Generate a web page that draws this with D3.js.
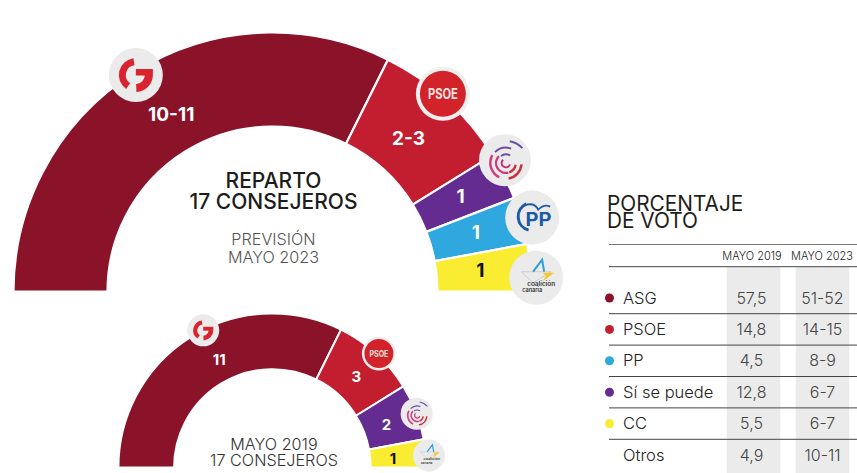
<!DOCTYPE html>
<html>
<head>
<meta charset="utf-8">
<script src="https://cdn.jsdelivr.net/npm/d3@7"></script>
<style>
html, body { margin: 0; padding: 0; background: #fff; overflow: hidden; }
text { font-family: Inter, "Noto Sans", sans-serif; }
</style>
</head>
<body>
<svg id="chart" width="857" height="473"></svg>
<script>
// seats
var parties2023 = ['ASG', 'PSOE', 'SSP', 'PP', 'CC'];
var seats2023 = [11, 3, 1, 1, 1];
var labels2023 = ['10-11', '2-3', '1', '1', '1'];

var parties2019 = ['ASG', 'PSOE', 'SSP', 'CC'];
var seats2019 = [11, 3, 2, 1];
var labels2019 = ['11', '3', '2', '1'];

// vote table
var tableParties = ['ASG', 'PSOE', 'PP', 'Sí se puede', 'CC', 'Otros'];
var tableKeys = ['ASG', 'PSOE', 'PP', 'SSP', 'CC', null];
var votes2019 = ['57,5', '14,8', '4,5', '12,8', '5,5', '4,9'];
var votes2023 = ['51-52', '14-15', '8-9', '6-7', '6-7', '10-11'];
var tableHeaders = ['MAYO 2019', 'MAYO 2023'];

var colors = { ASG: '#8a1229', PSOE: '#c31e30', SSP: '#642b90', PP: '#2fa8e0', CC: '#f9ec31' };

var svg = d3.select('#chart');
var deg = Math.PI / 180;

function polar(r, a) {
    return [r * Math.sin(a), -r * Math.cos(a)];
}

function drawLogoG(g) {
    var arc = d3.arc();
    var red = '#d9232e';
    g.append('path').attr('fill', red)
        .attr('d', arc({ innerRadius: 10, outerRadius: 17, startAngle: 215 * deg, endAngle: 352 * deg }));
    g.append('path').attr('fill', red)
        .attr('d', arc({ innerRadius: 9, outerRadius: 17, startAngle: 90 * deg, endAngle: 178 * deg }));
    g.append('rect').attr('fill', red).attr('x', 0).attr('y', -6).attr('width', 17).attr('height', 6.5);
}

function drawLogoPsoe(g) {
    g.append('circle').attr('r', 23).attr('fill', '#d2232a');
    g.append('text').attr('text-anchor', 'middle').attr('y', 5.5).attr('fill', '#f4e3df')
        .attr('font-size', 14).attr('font-weight', 700)
        .attr('textLength', 30).attr('lengthAdjust', 'spacingAndGlyphs')
        .text('PSOE');
}

function drawLogoSsp(g) {
    var arc = d3.arc();
    var rings = [
        { r0: 3.5, r1: 5.5, a0: 110, a1: 320, c: '#c4306e' },
        { r0: 9, r1: 11.5, a0: 165, a1: 315, c: '#cf3d7e' },
        { r0: 9, r1: 11.5, a0: 100, a1: 160, c: '#d2343f' },
        { r0: 15, r1: 17.5, a0: 95, a1: 170, c: '#c9303f' },
        { r0: 15, r1: 17.5, a0: 205, a1: 300, c: '#cf3d7e' },
        { r0: 8, r1: 10, a0: 325, a1: 30, c: '#6a4ea8' },
        { r0: 15, r1: 17, a0: 315, a1: 20, c: '#6a4ea8' },
        { r0: 22, r1: 24, a0: 10, a1: 48, c: '#6a4ea8' }
    ];
    rings.forEach(function (d) {
        g.append('path').attr('fill', d.c).attr('transform', 'translate(1,3)')
            .attr('d', arc({ innerRadius: d.r0, outerRadius: d.r1, startAngle: d.a0 * deg, endAngle: (d.a1 < d.a0 ? d.a1 + 360 : d.a1) * deg }));
    });
}

function drawLogoPp(g) {
    var arc = d3.arc();
    g.append('path').attr('fill', '#1f5aa6').attr('transform', 'translate(0,-1)')
        .attr('d', arc({ innerRadius: 12.5, outerRadius: 15.5, startAngle: 195 * deg, endAngle: 335 * deg }));
    g.append('path').attr('fill', 'none').attr('stroke', '#1f5aa6').attr('stroke-width', 1.8)
        .attr('d', 'M-8,-12 Q2,-16 6,-8 Q12,-14 18,-11');
    g.append('text').attr('text-anchor', 'middle').attr('x', 6.3).attr('y', 8.5).attr('fill', '#1f5aa6')
        .attr('font-size', 19).attr('font-weight', 700)
        .attr('textLength', 26).attr('lengthAdjust', 'spacingAndGlyphs').text('PP');
}

function drawLogoCc(g) {
    g.append('path').attr('fill', 'none').attr('stroke', '#c8c8c8').attr('stroke-width', 0.8)
        .attr('d', 'M-15,-6 L15,-6 L-3,5 Z');
    g.append('path').attr('fill', 'none').attr('stroke', '#2b9fd6').attr('stroke-width', 2)
        .attr('d', 'M-3,-6 L6,-18 L8,-6');
    g.append('path').attr('fill', '#f4c92c').attr('d', 'M6,-5 L18,-5 L6,4 L10,-2 Z');
    g.append('text').attr('text-anchor', 'middle').attr('x', 5).attr('y', 8).attr('fill', '#333')
        .attr('font-size', 5.5).attr('font-weight', 600)
        .attr('textLength', 28).attr('lengthAdjust', 'spacingAndGlyphs').text('coalición');
    g.append('text').attr('text-anchor', 'middle').attr('x', -4).attr('y', 14.5).attr('fill', '#333')
        .attr('font-size', 5.5).attr('font-weight', 600)
        .attr('textLength', 20).attr('lengthAdjust', 'spacingAndGlyphs').text('canaria');
}

var logoDraw = { ASG: drawLogoG, PSOE: drawLogoPsoe, SSP: drawLogoSsp, PP: drawLogoPp, CC: drawLogoCc };

// one hemicycle with its party logos on top
function drawHemicycle(opts) {
    var g = svg.append('g').attr('transform', 'translate(' + opts.cx + ',' + opts.cy + ')');
    var pie = d3.pie().sort(null).startAngle(-90 * deg).endAngle(90 * deg);
    var arcs = pie(opts.seats);
    var arc = d3.arc().innerRadius(opts.inner).outerRadius(opts.outer);

    g.selectAll('path.seat').data(arcs).enter().append('path')
        .attr('class', 'seat')
        .attr('d', arc)
        .attr('fill', function (d, i) { return colors[opts.parties[i]]; })
        .attr('stroke', '#fff')
        .attr('stroke-width', opts.gap);

    arcs.forEach(function (d, i) {
        var a = (d.startAngle + d.endAngle) / 2 + opts.logoNudge[i] * deg;
        var p = polar(opts.logoR[i], a);
        var key = opts.parties[i];
        var r = opts.logoSize[i];
        var logo = g.append('g').attr('transform', 'translate(' + p[0] + ',' + p[1] + ') scale(' + (r / 27) + ')');
        logo.append('circle').attr('r', 27).attr('fill', key === 'PSOE' ? '#f1eeee' : '#ebebeb');
        logoDraw[key](logo);
    });

    g.selectAll('text.seat-label').data(arcs).enter().append('text')
        .attr('class', 'seat-label')
        .attr('text-anchor', 'middle')
        .attr('font-weight', 700)
        .attr('font-size', opts.labelSize)
        .attr('fill', function (d, i) { return opts.parties[i] === 'CC' ? '#111' : '#fff'; })
        .attr('transform', function (d, i) {
            var a = (d.startAngle + d.endAngle) / 2 + opts.labelNudge[i] * deg;
            var p = polar(opts.labelR[i], a);
            return 'translate(' + p[0] + ',' + (p[1] + opts.labelSize * 0.36) + ')';
        })
        .text(function (d, i) { return opts.labels[i]; });

    return g;
}

drawHemicycle({
    cx: 272.5, cy: 291.5, inner: 165, outer: 259, gap: 2.2,
    seats: seats2023, parties: parties2023, labels: labels2023,
    labelR: [204, 205, 211, 212, 209], labelSize: 19, labelNudge: [2, -0.8, -0.5, -0.5, -0.5],
    logoR: [256, 261, 267, 270, 264], logoNudge: [-0.5, -1.6, -3, 0, 2.3], logoSize: [27, 27, 26, 27, 27]
});

drawHemicycle({
    cx: 272.4, cy: 467.5, inner: 98.3, outer: 154, gap: 2,
    seats: seats2019, parties: parties2019, labels: labels2019,
    labelR: [120, 124, 122, 121], labelSize: 15, labelNudge: [5.5, 0.3, 0.5, 1],
    logoR: [153.6, 156, 154, 157], logoNudge: [5, 0.7, 0.7, 0.9], logoSize: [16, 17, 16, 16]
});

function centerText(x, y, str, size, weight, fill) {
    svg.append('text').attr('x', x).attr('y', y).attr('text-anchor', 'middle')
        .attr('font-size', size).attr('font-weight', weight).attr('fill', fill).text(str);
}

centerText(273.5, 188, 'REPARTO', 21, 500, '#1d1d1b');
centerText(273.5, 209, '17 CONSEJEROS', 21, 500, '#1d1d1b');
centerText(273.5, 245, 'PREVISIÓN', 16.2, 300, '#555');
centerText(273.5, 263, 'MAYO 2023', 16.2, 300, '#555');
centerText(274, 450, 'MAYO 2019', 16.2, 300, '#333');
centerText(274, 466, '17 CONSEJEROS', 16.2, 300, '#333');

// table
var rowY = d3.scalePoint().domain(d3.range(tableParties.length)).range([298, 455]);
var colX = d3.scalePoint().domain([0, 1]).range([753.5, 822.5]);
var bandW = 53.5;

svg.selectAll('rect.band').data([0, 1]).enter().append('rect')
    .attr('class', 'band')
    .attr('x', function (d) { return colX(d) - bandW / 2; })
    .attr('y', 267)
    .attr('width', bandW)
    .attr('height', 206)
    .attr('fill', '#ebebeb');

svg.append('text').attr('x', 607).attr('y', 210.5).attr('font-size', 20.8).attr('font-weight', 400).attr('fill', '#1d1d1b').text('PORCENTAJE');
svg.append('text').attr('x', 607).attr('y', 228).attr('font-size', 20.8).attr('font-weight', 400).attr('fill', '#1d1d1b').text('DE VOTO');

var ruleYs = [244.5, 266.7].concat(d3.range(tableParties.length - 1).map(function (i) {
    return (rowY(i) + rowY(i + 1)) / 2;
}));
svg.selectAll('line.rule').data(ruleYs).enter().append('line')
    .attr('class', 'rule')
    .attr('x1', 609).attr('x2', 857)
    .attr('y1', function (d) { return d; }).attr('y2', function (d) { return d; })
    .attr('stroke', function (d, i) { return i === 0 ? '#777' : '#444'; })
    .attr('stroke-width', 1);

tableHeaders.forEach(function (h, i) {
    centerText(colX(i) - 1.5 + i, 260, h, 11, 300, '#222');
});

tableParties.forEach(function (name, i) {
    var y = rowY(i) + 5.5;
    if (tableKeys[i]) {
        svg.append('circle').attr('cx', 609.5).attr('cy', rowY(i)).attr('r', 4.5).attr('fill', colors[tableKeys[i]]);
    }
    svg.append('text').attr('x', 623).attr('y', y).attr('font-size', 16.5).attr('font-weight', 300).attr('fill', '#222').text(name);
    centerText(colX(0) - 2, y, votes2019[i], 16, 300, '#444');
    centerText(colX(1), y, votes2023[i], 16, 300, '#444');
});
</script>
</body>
</html>
